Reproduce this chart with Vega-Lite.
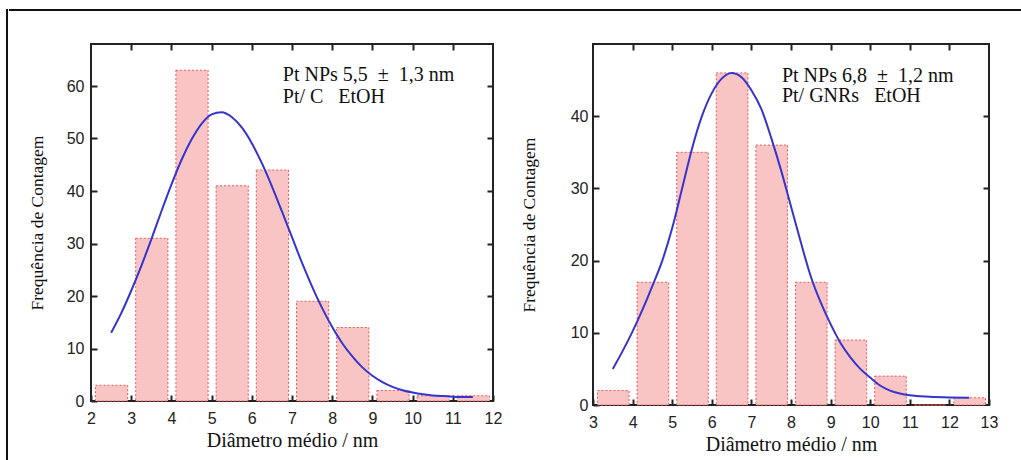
{
  "$schema": "https://vega.github.io/schema/vega-lite/v6.json",
  "background": "white",
  "padding": {"left": 6, "top": 9, "right": 0, "bottom": 0},
  "spacing": 0,
  "datasets": {
    "blank": [{"k": 1}],
    "barsC": [
      {"start": 2, "end": 3, "count": 3},
      {"start": 3, "end": 4, "count": 31},
      {"start": 4, "end": 5, "count": 63},
      {"start": 5, "end": 6, "count": 41},
      {"start": 6, "end": 7, "count": 44},
      {"start": 7, "end": 8, "count": 19},
      {"start": 8, "end": 9, "count": 14},
      {"start": 9, "end": 10, "count": 2},
      {"start": 10, "end": 11, "count": 1},
      {"start": 11, "end": 12, "count": 1}
    ],
    "barsG": [
      {"start": 3, "end": 4, "count": 2},
      {"start": 4, "end": 5, "count": 17},
      {"start": 5, "end": 6, "count": 35},
      {"start": 6, "end": 7, "count": 46},
      {"start": 7, "end": 8, "count": 36},
      {"start": 8, "end": 9, "count": 17},
      {"start": 9, "end": 10, "count": 9},
      {"start": 10, "end": 11, "count": 4},
      {"start": 11, "end": 12, "count": 0},
      {"start": 12, "end": 13, "count": 1}
    ],
    "fitC": [
      {"d": 2.5, "f": 13.0}, {"d": 2.75, "f": 16.7}, {"d": 3.0, "f": 21.0}, {"d": 3.25, "f": 25.7},
      {"d": 3.5, "f": 30.8}, {"d": 3.75, "f": 36.1}, {"d": 4.0, "f": 41.2}, {"d": 4.25, "f": 45.9},
      {"d": 4.5, "f": 49.8}, {"d": 4.75, "f": 52.8}, {"d": 5.0, "f": 54.6}, {"d": 5.25, "f": 55.0},
      {"d": 5.5, "f": 54.1}, {"d": 5.75, "f": 52.1}, {"d": 6.0, "f": 49.1}, {"d": 6.25, "f": 45.3},
      {"d": 6.5, "f": 40.9}, {"d": 6.75, "f": 36.1}, {"d": 7.0, "f": 31.2}, {"d": 7.25, "f": 26.3},
      {"d": 7.5, "f": 21.8}, {"d": 7.75, "f": 17.7}, {"d": 8.0, "f": 14.1}, {"d": 8.25, "f": 11.0},
      {"d": 8.5, "f": 8.5}, {"d": 8.75, "f": 6.4}, {"d": 9.0, "f": 4.8}, {"d": 9.25, "f": 3.6},
      {"d": 9.5, "f": 2.7}, {"d": 9.75, "f": 2.05}, {"d": 10.0, "f": 1.6}, {"d": 10.25, "f": 1.27},
      {"d": 10.5, "f": 1.06}, {"d": 10.75, "f": 0.93}, {"d": 11.0, "f": 0.83}, {"d": 11.25, "f": 0.77},
      {"d": 11.5, "f": 0.74}
    ],
    "fitG": [
      {"d": 3.5, "f": 5.0}, {"d": 3.75, "f": 7.5}, {"d": 4.0, "f": 10.2}, {"d": 4.25, "f": 13.2},
      {"d": 4.5, "f": 16.5}, {"d": 4.75, "f": 20.0}, {"d": 5.0, "f": 24.5}, {"d": 5.25, "f": 30.0},
      {"d": 5.5, "f": 35.5}, {"d": 5.75, "f": 40.0}, {"d": 6.0, "f": 43.2}, {"d": 6.25, "f": 45.2},
      {"d": 6.5, "f": 46.0}, {"d": 6.75, "f": 45.4}, {"d": 7.0, "f": 43.6}, {"d": 7.25, "f": 41.0},
      {"d": 7.5, "f": 37.0}, {"d": 7.75, "f": 32.5}, {"d": 8.0, "f": 27.5}, {"d": 8.25, "f": 22.5},
      {"d": 8.5, "f": 17.8}, {"d": 8.75, "f": 14.2}, {"d": 9.0, "f": 11.2}, {"d": 9.25, "f": 8.6},
      {"d": 9.5, "f": 6.6}, {"d": 9.75, "f": 5.0}, {"d": 10.0, "f": 3.8}, {"d": 10.25, "f": 2.7},
      {"d": 10.5, "f": 2.0}, {"d": 10.75, "f": 1.6}, {"d": 11.0, "f": 1.35}, {"d": 11.5, "f": 1.15},
      {"d": 12.0, "f": 1.05}, {"d": 12.5, "f": 1.0}
    ],
    "notesC": [
      {"x": 6.77, "y": 60.9, "t": "Pt NPs 5,5\u00a0\u00a0±\u00a0\u00a01,3 nm"},
      {"x": 6.77, "y": 56.8, "t": "Pt/ C\u00a0\u00a0\u00a0EtOH"}
    ],
    "notesG": [
      {"x": 7.77, "y": 44.7, "t": "Pt NPs 6,8\u00a0\u00a0±\u00a0\u00a01,2 nm"},
      {"x": 7.77, "y": 41.9, "t": "Pt/ GNRs\u00a0\u00a0\u00a0EtOH"}
    ]
  },
  "hconcat": [
    {
      "width": 0.01,
      "height": 449,
      "view": {"stroke": "#111", "strokeWidth": 2},
      "data": {"name": "blank"},
      "mark": {"type": "point", "opacity": 0, "size": 0},
      "encoding": {}
    },
    {
      "spacing": 30,
      "vconcat": [
        {
          "width": 1014,
          "height": 0.01,
          "view": {"stroke": "#111", "strokeWidth": 2},
          "data": {"name": "blank"},
          "mark": {"type": "point", "opacity": 0, "size": 0},
          "encoding": {}
        },
        {
          "spacing": 16,
          "hconcat": [
            {
              "width": 0.01,
              "height": 0.01,
              "view": {"stroke": null},
              "data": {"name": "blank"},
              "mark": {"type": "point", "opacity": 0, "size": 0},
              "encoding": {}
            },
            {
              "width": 402,
              "height": 357,
              "resolve": {"axis": {"x": "independent", "y": "independent"}},
              "layer": [
                {
                  "data": {"name": "barsC"},
                  "mark": {"type": "bar", "binSpacing": 8, "fill": "#f9c4c4", "stroke": "#ee5555", "strokeWidth": 1, "strokeDash": [2, 2]},
                  "encoding": {
                    "x": {"field": "start", "type": "quantitative", "bin": "binned",
                      "scale": {"domain": [2, 12], "nice": false},
                      "axis": {"title": "Diâmetro médio / nm", "values": [2,3,4,5,6,7,8,9,10,11,12], "tickSize": -6, "labelPadding": 15, "titlePadding": 4}},
                    "x2": {"field": "end"},
                    "y": {"field": "count", "type": "quantitative",
                      "scale": {"domain": [0, 68], "nice": false},
                      "axis": {"title": "Frequência de Contagem", "values": [0,10,20,30,40,50,60], "tickSize": -6, "labelPadding": 13, "titlePadding": 20}}
                  }
                },
                {
                  "data": {"name": "fitC"},
                  "mark": {"type": "line", "color": "#3535cc", "strokeWidth": 2, "interpolate": "monotone"},
                  "encoding": {
                    "x": {"field": "d", "type": "quantitative", "axis": {"orient": "top", "labels": false, "title": null, "values": [3,4,5,6,7,8,9,10,11], "tickSize": -6}},
                    "y": {"field": "f", "type": "quantitative", "axis": {"orient": "right", "labels": false, "title": null, "values": [10,20,30,40,50,60], "tickSize": -6}}
                  }
                },
                {
                  "data": {"name": "notesC"},
                  "mark": {"type": "text", "align": "left", "baseline": "alphabetic", "font": "Liberation Serif", "fontSize": 20, "color": "#111"},
                  "encoding": {
                    "x": {"field": "x", "type": "quantitative", "axis": null},
                    "y": {"field": "y", "type": "quantitative", "axis": null},
                    "text": {"field": "t"}
                  }
                }
              ]
            },
            {
              "width": 396,
              "height": 361,
              "resolve": {"axis": {"x": "independent", "y": "independent"}},
              "layer": [
                {
                  "data": {"name": "barsG"},
                  "mark": {"type": "bar", "binSpacing": 8, "fill": "#f9c4c4", "stroke": "#ee5555", "strokeWidth": 1, "strokeDash": [2, 2]},
                  "encoding": {
                    "x": {"field": "start", "type": "quantitative", "bin": "binned",
                      "scale": {"domain": [3, 13], "nice": false},
                      "axis": {"title": "Diâmetro médio / nm", "values": [3,4,5,6,7,8,9,10,11,12,13], "tickSize": -6, "labelPadding": 15, "titlePadding": 4}},
                    "x2": {"field": "end"},
                    "y": {"field": "count", "type": "quantitative",
                      "scale": {"domain": [0, 50], "nice": false},
                      "axis": {"title": "Frequência de Contagem", "values": [0,10,20,30,40], "tickSize": -6, "labelPadding": 11, "titlePadding": 32}}
                  }
                },
                {
                  "data": {"name": "fitG"},
                  "mark": {"type": "line", "color": "#3535cc", "strokeWidth": 2, "interpolate": "monotone"},
                  "encoding": {
                    "x": {"field": "d", "type": "quantitative", "axis": {"orient": "top", "labels": false, "title": null, "values": [4,5,6,7,8,9,10,11,12], "tickSize": -6}},
                    "y": {"field": "f", "type": "quantitative", "axis": {"orient": "right", "labels": false, "title": null, "values": [10,20,30,40], "tickSize": -6}}
                  }
                },
                {
                  "data": {"name": "notesG"},
                  "mark": {"type": "text", "align": "left", "baseline": "alphabetic", "font": "Liberation Serif", "fontSize": 20, "color": "#111"},
                  "encoding": {
                    "x": {"field": "x", "type": "quantitative", "axis": null},
                    "y": {"field": "y", "type": "quantitative", "axis": null},
                    "text": {"field": "t"}
                  }
                }
              ]
            }
          ]
        }
      ]
    }
  ],
  "config": {
    "view": {"stroke": "#222", "strokeWidth": 2},
    "axis": {
      "grid": false,
      "domain": false,
      "ticks": true,
      "tickColor": "#222",
      "tickWidth": 2,
      "labelFont": "Liberation Sans",
      "labelFontSize": 16,
      "labelColor": "#222",
      "labelFlush": false,
      "labelOverlap": false,
      "titleFont": "Liberation Serif",
      "titleFontWeight": "normal",
      "titleColor": "#111"
    },
    "axisX": {"titleFontSize": 20},
    "axisY": {"titleFontSize": 17.5}
  }
}
